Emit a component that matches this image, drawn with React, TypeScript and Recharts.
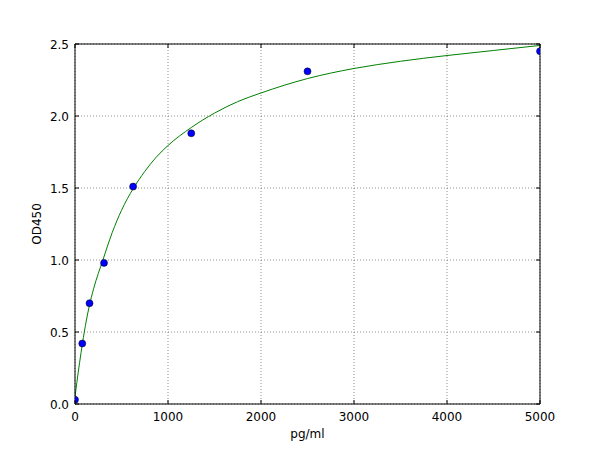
import React from 'react';
import { ComposedChart, Line, Scatter, XAxis, YAxis, CartesianGrid } from 'recharts';

// standards (measured points)
const standardConc = [0, 78, 156, 312, 625, 1250, 2500, 5000];
const standardOD = [0.03, 0.42, 0.7, 0.98, 1.51, 1.88, 2.31, 2.45];

// fitted curve
const curveConc = [0, 20, 50, 80, 100, 150, 200, 300, 400, 500, 625, 750, 875, 1000, 1250, 1500, 1750, 2000, 2500, 3000, 3500, 4000, 4500, 5000];
const curveOD = [0.05, 0.15, 0.29, 0.42, 0.5, 0.67, 0.8, 1.0, 1.19, 1.345, 1.495, 1.615, 1.715, 1.795, 1.92, 2.02, 2.1, 2.16, 2.26, 2.33, 2.38, 2.42, 2.455, 2.49];

const xTicks = [0, 1000, 2000, 3000, 4000, 5000];
const yTicks = [0, 0.5, 1, 1.5, 2, 2.5];

const points = standardConc.map((x, i) => ({ x, y: standardOD[i] }));
const curve = curveConc.map((x, i) => ({ x, y: curveOD[i] }));

const FONT = 'DejaVu Sans, sans-serif';
const TICK_LEN = 4;

const BottomTick = (props: any) => {
  const { x, y, payload } = props;
  return (
    <g>
      <line x1={x} x2={x} y1={y} y2={y - TICK_LEN} stroke="#000" />
      <text x={x} y={y + 17} textAnchor="middle" fontFamily={FONT} fontSize={12} fill="#000">
        {payload.value}
      </text>
    </g>
  );
};

const TopTick = (props: any) => {
  const { x, y } = props;
  return <line x1={x} x2={x} y1={y} y2={y + TICK_LEN} stroke="#000" />;
};

const LeftTick = (props: any) => {
  const { x, y, payload } = props;
  return (
    <g>
      <line x1={x} x2={x + TICK_LEN} y1={y} y2={y} stroke="#000" />
      <text x={x - 6} y={y + 4.5} textAnchor="end" fontFamily={FONT} fontSize={12} fill="#000">
        {Number(payload.value).toFixed(1)}
      </text>
    </g>
  );
};

const RightTick = (props: any) => {
  const { x, y } = props;
  return <line x1={x} x2={x - TICK_LEN} y1={y} y2={y} stroke="#000" />;
};

const Dot = (props: any) => {
  const { cx, cy } = props;
  return <circle cx={cx} cy={cy} r={3.5} fill="#0000ff" stroke="#000" strokeWidth={0.5} />;
};

export default function App() {
  return (
    <div style={{ position: 'absolute', left: 0, top: 0, background: '#fff' }}>
      <ComposedChart width={600} height={450} margin={{ top: 43, right: 59, bottom: 45, left: 74 }}>
        <CartesianGrid
          xAxisId="bottom"
          yAxisId="left"
          stroke="#444"
          strokeWidth={0.6}
          strokeDasharray="1 2"
        />
        <XAxis
          xAxisId="bottom"
          dataKey="x"
          type="number"
          domain={[0, 5000]}
          ticks={xTicks}
          allowDataOverflow
          height={1}
          tickSize={0}
          tickMargin={0}
          tickLine={false}
          axisLine={{ stroke: '#000' }}
          tick={<BottomTick />}
          label={(p: any) => (
            <text
              x={p.viewBox.x + p.viewBox.width / 2}
              y={p.viewBox.y + 34}
              textAnchor="middle"
              fontFamily={FONT}
              fontSize={12}
              fill="#000"
            >
              pg/ml
            </text>
          )}
        />
        <XAxis
          xAxisId="top"
          orientation="top"
          dataKey="x"
          type="number"
          domain={[0, 5000]}
          ticks={xTicks}
          allowDataOverflow
          height={1}
          tickSize={0}
          tickMargin={0}
          tickLine={false}
          axisLine={{ stroke: '#000' }}
          tick={<TopTick />}
        />
        <YAxis
          yAxisId="left"
          type="number"
          domain={[0, 2.5]}
          ticks={yTicks}
          allowDataOverflow
          width={1}
          tickSize={0}
          tickMargin={0}
          tickLine={false}
          axisLine={{ stroke: '#000' }}
          tick={<LeftTick />}
          label={(p: any) => {
            const cx = p.viewBox.x - 33;
            const cy = p.viewBox.y + p.viewBox.height / 2;
            return (
              <text
                x={cx}
                y={cy}
                transform={`rotate(-90 ${cx} ${cy})`}
                textAnchor="middle"
                fontFamily={FONT}
                fontSize={12}
                fill="#000"
              >
                OD450
              </text>
            );
          }}
        />
        <YAxis
          yAxisId="right"
          orientation="right"
          type="number"
          domain={[0, 2.5]}
          ticks={yTicks}
          allowDataOverflow
          width={1}
          tickSize={0}
          tickMargin={0}
          tickLine={false}
          axisLine={{ stroke: '#000' }}
          tick={<RightTick />}
        />
        <Line
          xAxisId="bottom"
          yAxisId="left"
          data={curve}
          dataKey="y"
          type="monotone"
          stroke="#008000"
          strokeWidth={1}
          dot={false}
          isAnimationActive={false}
        />
        <Scatter
          xAxisId="bottom"
          yAxisId="left"
          data={points}
          dataKey="y"
          shape={<Dot />}
          isAnimationActive={false}
        />
      </ComposedChart>
    </div>
  );
}
